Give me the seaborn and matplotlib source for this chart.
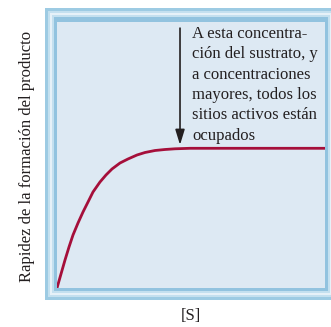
import matplotlib
matplotlib.use("Agg")
import matplotlib.pyplot as plt
from matplotlib.patches import Rectangle
import seaborn as sns
import pandas as pd

# curve (arbitrary units, 0..10 on both axes)
s_conc = [0, 0.149, 0.299, 0.448, 0.597, 0.784, 0.970, 1.157, 1.343, 1.604, 1.828,
          2.052, 2.351, 2.649, 2.985, 3.284, 3.657, 4.030, 4.403, 4.963, 10]
rate = [0, 0.526, 1.053, 1.541, 1.992, 2.444, 2.857, 3.233, 3.609, 3.985, 4.248,
        4.474, 4.699, 4.850, 5.000, 5.094, 5.169, 5.207, 5.233, 5.252, 5.252]

arrow_x = 4.59
arrow_top = 9.77
arrow_tip = 5.38

note = ("A esta concentra-\nción del sustrato, y\na concentraciones\n"
        "mayores, todos los\nsitios activos están\nocupados")
ylabel = "Rapidez de la formación del producto"
xlabel = "[S]"

W, H = 331, 327

sns.set_style("white")
plt.rcParams['font.family'] = ['Liberation Serif', 'DejaVu Serif']

fig = plt.figure(figsize=(W / 100, H / 100), dpi=100)


def box(x0, y0, x1, y1, color):
    fig.patches.append(Rectangle((x0 / W, 1 - y1 / H), (x1 - x0) / W, (y1 - y0) / H,
                                 transform=fig.transFigure, color=color, lw=0, zorder=-5))


# picture frame
frame = [(0, "#9dcbe3"), (3, "#c4e0ef"), (5, "#e6f1f8"), (7, "#c4e0ef"), (9, "#92c3df")]
for inset, col in frame:
    box(45 + inset, 8 + inset, 337 - inset, 300 - inset, col)

ax = fig.add_axes([57 / W, 1 - 288 / H, 268 / W, 266 / H])
ax.set_facecolor("#dde9f3")

df = pd.DataFrame({"S": s_conc, "v": rate})
sns.lineplot(data=df, x="S", y="v", sort=False, color="#a50f3a", lw=2, ax=ax,
             solid_joinstyle="round", solid_capstyle="butt")

ax.annotate("", xy=(arrow_x, arrow_tip), xytext=(arrow_x, arrow_top),
            arrowprops=dict(arrowstyle="-|>,head_length=0.65,head_width=0.2",
                            mutation_scale=14, lw=1.2, color="#231f20",
                            shrinkA=0, shrinkB=0))
ax.text(5.04, 9.85, note, va="top", ha="left", fontsize=12, linespacing=1.36,
        color="#231f20")

ax.set_xlim(0, 10)
ax.set_ylim(0, 10)
ax.set_xticks([])
ax.set_yticks([])
for sp in ax.spines.values():
    sp.set_visible(False)

ax.set_xlabel("")
ax.set_ylabel("")
fig.text(191 / W, 1 - 316 / H, xlabel, ha="center", va="center", fontsize=12, color="#231f20")
fig.text(27 / W, 1 - 156 / H, ylabel, ha="center", va="center", rotation=90,
         fontsize=12, color="#231f20")

fig.savefig("out.png", dpi=100)
